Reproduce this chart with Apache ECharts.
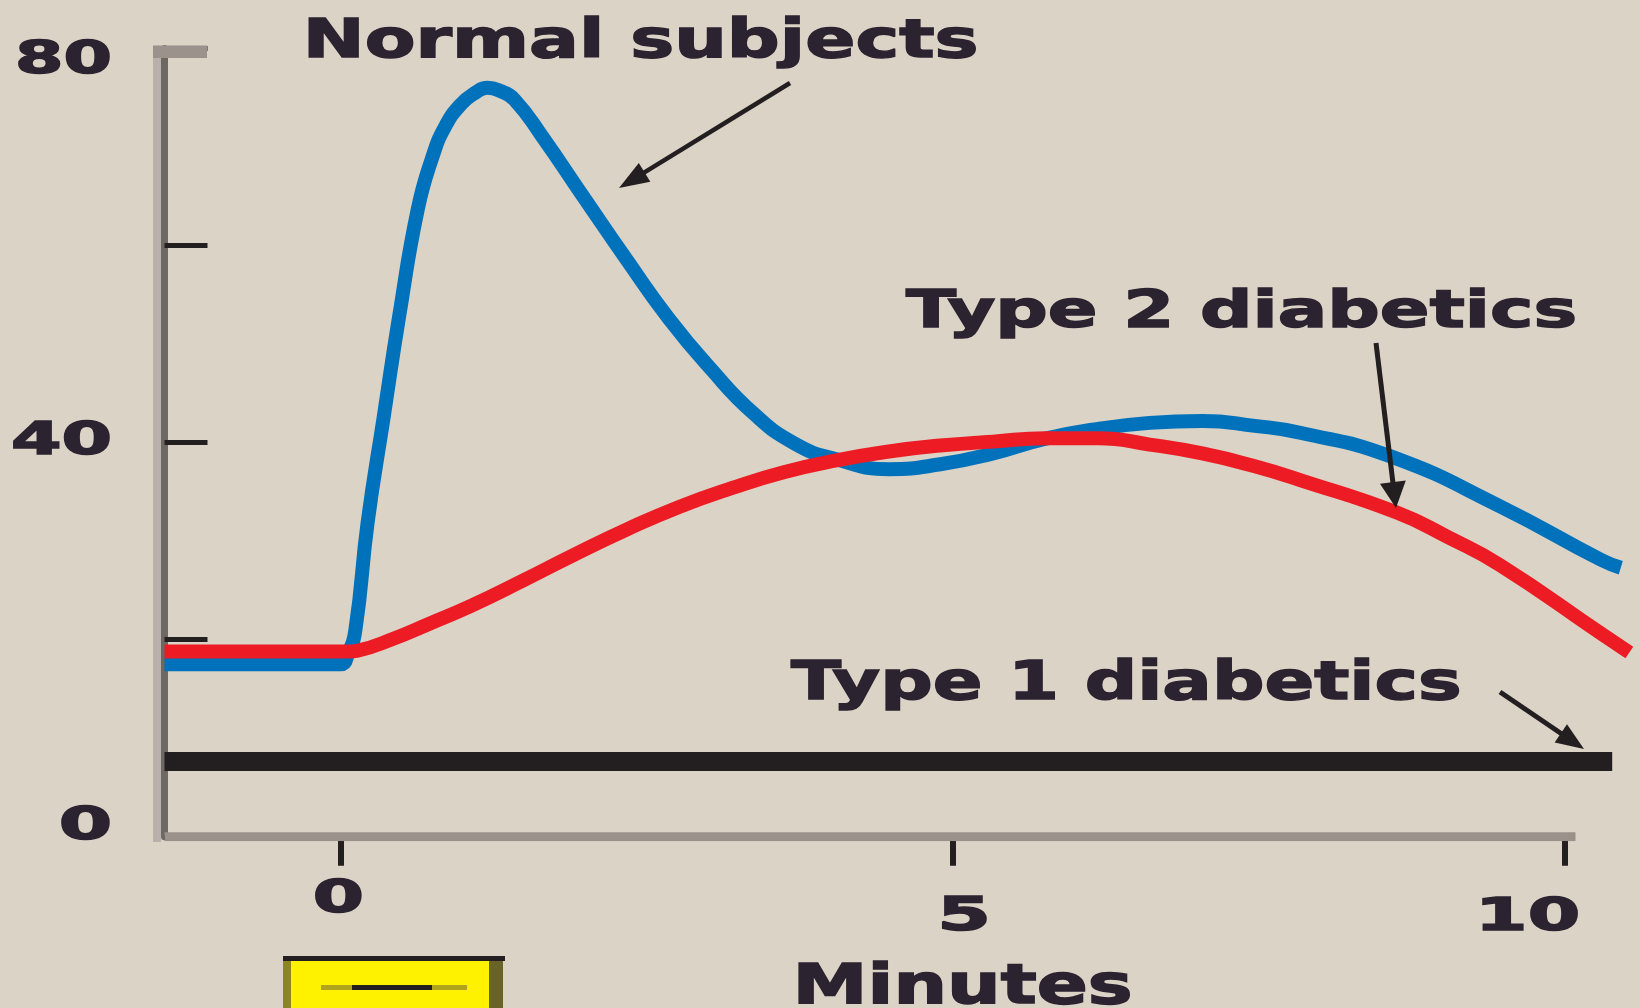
<!DOCTYPE html>
<html>
<head>
<meta charset="utf-8">
<style>
html,body{margin:0;padding:0;background:#dbd3c6;}
#chart{width:1639px;height:1008px;}
</style>
<script src="https://cdn.jsdelivr.net/npm/echarts@6/dist/echarts.min.js"></script>
</head>
<body>
<div id="chart"></div>
<script>
// ---------------- DATA ----------------
const normalMinutes = [-1.44, 0.0, 0.06, 0.12, 0.22, 0.35, 0.48, 0.63, 0.75, 0.85, 0.98, 1.1, 1.2, 1.3, 1.42, 1.65, 1.98, 2.34, 2.68, 3.03, 3.37, 3.71, 4.05, 4.48, 4.90, 5.33, 5.76, 6.19, 6.61, 7.04, 7.47, 7.84, 8.58, 9.48, 10.30, 10.46];
const normalValues  = [17.5, 17.5, 18.6, 21.0, 31.9, 42.5, 53.0, 63.7, 69.0, 72.0, 74.3, 75.5, 76.0, 75.7, 74.8, 71.0, 65.0, 58.5, 52.6, 47.4, 43.0, 39.9, 38.3, 37.3, 37.8, 38.9, 40.4, 41.4, 42.0, 42.2, 41.7, 41.0, 38.6, 33.5, 28.1, 27.3];

const type2Minutes = [-1.44, 0.06, 0.14, 0.43, 0.72, 1.06, 1.49, 1.92, 2.34, 2.77, 3.20, 3.62, 4.05, 4.48, 4.90, 5.33, 5.76, 6.19, 6.61, 7.04, 7.47, 7.84, 8.63, 9.05, 9.47, 10.29, 10.53];
const type2Values  = [18.8, 18.8, 18.9, 20.1, 21.6, 23.4, 26.0, 28.7, 31.2, 33.5, 35.4, 37.0, 38.2, 39.1, 39.7, 40.1, 40.45, 40.45, 39.8, 38.9, 37.6, 36.2, 32.9, 30.4, 27.6, 20.7, 18.7];

const type1Minutes = [-1.44, 10.39];
const type1Values  = [7.64, 7.64];

const xAxisLineSpan = [-1.44, 10.09];   // drawn x-axis baseline extent (minutes)

const seriesNames = ['Normal subjects', 'Type 2 diabetics', 'Type 1 diabetics'];
const xAxisTitle = 'Minutes';
const xTickValues = [0, 5, 10];
const xTickLabels = ['0', '5', '10'];
const yLabelValues = [80, 40, 0];
const yLabelTexts = ['80', '40', '0'];

// ---------------- STYLE / LAYOUT ----------------
const BG = '#dbd3c6';
const INK = '#2b2330';
const FONT_FAMILY = '"DejaVu Sans", "Liberation Sans", sans-serif';
const zip = (xs, ys) => xs.map((x, i) => [x, ys[i]]);

const chart = echarts.init(document.getElementById('chart'), null, {renderer: 'canvas'});

chart.setOption({
  backgroundColor: BG,
  animation: false,
  grid: {left: 164.5, right: 1.1, top: 48.4, bottom: 171.2, containLabel: false, outerBoundsMode: 'none'},
  xAxis: {
    type: 'value', min: -1.44, max: 10.6,
    axisLine: {show: false, onZero: false},
    axisTick: {show: true, customValues: xTickValues, inside: false, length: 29, lineStyle: {color: '#231f20', width: 6}},
    axisLabel: {show: false},
    splitLine: {show: false}
  },
  yAxis: {
    type: 'value', min: 0, max: 80, interval: 20,
    axisLine: {show: true, onZero: false, lineStyle: {color: '#6d6863', width: 7}},
    axisTick: {show: true, inside: true, length: 43, lineStyle: {color: '#231f20', width: 5}},
    axisLabel: {show: false},
    splitLine: {show: false}
  },
  series: [
    {
      name: 'x-axis', type: 'line', data: xAxisLineSpan.map(x => [x, 0]),
      showSymbol: false, symbol: 'none', silent: true, z: 1,
      lineStyle: {color: '#9a918a', width: 9, cap: 'butt'}
    },
    {
      name: seriesNames[0], type: 'line', data: zip(normalMinutes, normalValues),
      smooth: 0.5, showSymbol: false, symbol: 'none', z: 3,
      lineStyle: {color: '#0072bc', width: 14, join: 'round'}
    },
    {
      name: seriesNames[1], type: 'line', data: zip(type2Minutes, type2Values),
      smooth: 0.5, showSymbol: false, symbol: 'none', z: 4,
      lineStyle: {color: '#ed1c24', width: 14, join: 'round'}
    },
    {
      name: seriesNames[2], type: 'line', data: zip(type1Minutes, type1Values),
      showSymbol: false, symbol: 'none', z: 4,
      lineStyle: {color: '#231f20', width: 19, cap: 'butt'}
    }
  ]
});

// ---------- text fitting (stretched heavy lettering) ----------
const mctx = document.createElement('canvas').getContext('2d');
function fitText(str, size, box, ref) {
  const font = `bold ${size}px ${FONT_FAMILY}`;
  mctx.font = font;
  mctx.textAlign = 'left';
  mctx.textBaseline = 'middle';
  const m = mctx.measureText(str);
  const ink = m.actualBoundingBoxLeft + m.actualBoundingBoxRight;
  const sx = (box.r - box.l) / ink;
  const mr = mctx.measureText(ref || str);
  const asc = mr.actualBoundingBoxAscent, desc = mr.actualBoundingBoxDescent;
  const sy = (box.b - box.t) / (asc + desc);
  return {
    type: 'text', silent: true, z: 20,
    x: box.l + m.actualBoundingBoxLeft * sx,
    y: box.t + asc * sy,
    scaleX: sx, scaleY: sy,
    style: {text: str, font: font, fill: INK, stroke: INK, lineWidth: 1.6,
            textAlign: 'left', textVerticalAlign: 'middle', align: 'left', verticalAlign: 'middle'}
  };
}

function arrow(tail, tip, lw, headLen, headW) {
  const dx = tip[0] - tail[0], dy = tip[1] - tail[1];
  const L = Math.hypot(dx, dy), ux = dx / L, uy = dy / L, px = -uy, py = ux;
  const base = [tip[0] - ux * headLen, tip[1] - uy * headLen];
  return [
    {type: 'line', silent: true, z: 15, shape: {x1: tail[0], y1: tail[1], x2: base[0] + ux * 3, y2: base[1] + uy * 3},
     style: {stroke: '#231f20', lineWidth: lw}},
    {type: 'polygon', silent: true, z: 15, shape: {points: [tip,
      [base[0] + px * headW / 2, base[1] + py * headW / 2],
      [base[0] - px * headW / 2, base[1] - py * headW / 2]]},
     style: {fill: '#231f20'}}
  ];
}

function buildGraphics() {
  const els = [];
  // y axis light edge strip and gray top cap
  els.push({type: 'rect', silent: true, z: 1, shape: {x: 153, y: 48, width: 8, height: 794}, style: {fill: '#b9b1a9'}});
  els.push({type: 'rect', silent: true, z: 12, shape: {x: 153, y: 45.5, width: 54, height: 12.5}, style: {fill: '#9a928b'}});

  // series annotations
  els.push(fitText(seriesNames[0], 59, {l: 309, r: 976, t: 18, b: 57}, 'N'));
  els.push(fitText(seriesNames[1], 58, {l: 906, r: 1574, t: 288, b: 327}, 'T'));
  els.push(fitText(seriesNames[2], 59, {l: 791, r: 1459, t: 659, b: 699}, 'T'));
  els.push(fitText(xAxisTitle, 59, {l: 799, r: 1130, t: 963, b: 1003}, 'M'));

  // tick labels placed relative to the axis scale
  const x0 = chart.convertToPixel({yAxisIndex: 0}, 0);
  const xLabelOffsets = [{dx: -2, dy: 59, w: 46}, {dx: 12, dy: 77, w: 45}, {dx: -34, dy: 77, w: 95}];
  xTickValues.forEach((v, i) => {
    const px = chart.convertToPixel({xAxisIndex: 0}, v);
    const o = xLabelOffsets[i];
    const cy = x0 + o.dy;
    els.push(fitText(xTickLabels[i], 48, {l: px + o.dx - o.w / 2, r: px + o.dx + o.w / 2, t: cy - 17, b: cy + 17}));
  });
  const yLabelOffsets = [{dy: 9, w: 92}, {dy: -4.6, w: 96}, {dy: -14, w: 48}];
  yLabelValues.forEach((v, i) => {
    const py = chart.convertToPixel({yAxisIndex: 0}, v);
    const o = yLabelOffsets[i];
    const cy = py + o.dy;
    els.push(fitText(yLabelTexts[i], 48, {l: 110 - o.w, r: 110, t: cy - 17, b: cy + 17}));
  });

  // arrows
  els.push(...arrow([790, 83], [619, 188], 4.5, 30, 22));
  els.push(...arrow([1376, 343], [1396, 508], 5, 26, 26));
  els.push(...arrow([1500, 692], [1584, 749], 5, 28, 22));

  // yellow stimulus box
  els.push({type: 'rect', silent: true, z: 10, shape: {x: 287, y: 961, width: 211, height: 50}, style: {fill: '#fff200'}});
  els.push({type: 'rect', silent: true, z: 11, shape: {x: 283, y: 956, width: 222, height: 5}, style: {fill: '#231f20'}});
  els.push({type: 'rect', silent: true, z: 11, shape: {x: 283, y: 961, width: 8, height: 50}, style: {fill: '#8c8523'}});
  els.push({type: 'rect', silent: true, z: 11, shape: {x: 489, y: 961, width: 14, height: 50}, style: {fill: '#6a6328'}});
  els.push({type: 'rect', silent: true, z: 11, shape: {x: 321, y: 985, width: 146, height: 5}, style: {fill: '#b0a41a'}});
  els.push({type: 'rect', silent: true, z: 12, shape: {x: 352, y: 985, width: 80, height: 5}, style: {fill: '#231f20'}});
  return els;
}

chart.setOption({graphic: {elements: buildGraphics()}});
</script>
</body>
</html>
